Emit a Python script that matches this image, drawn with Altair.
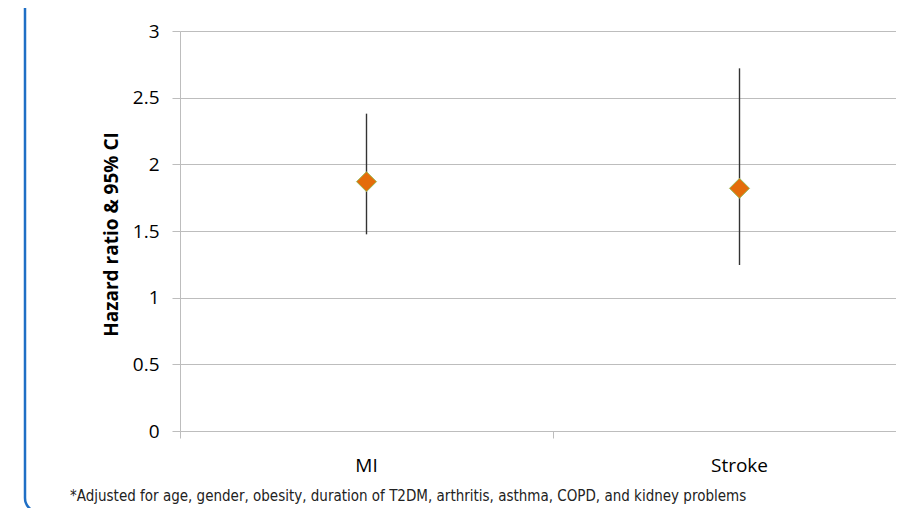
import altair as alt
import pandas as pd

categories = ["MI", "Stroke"]
hazard_ratio = [1.87, 1.82]
ci_lower = [1.475, 1.245]
ci_upper = [2.38, 2.72]
y_ticks = [0, 0.5, 1, 1.5, 2, 2.5, 3]
footnote = "*Adjusted for age, gender, obesity, duration of T2DM, arthritis, asthma, COPD, and kidney problems"
y_title = "Hazard ratio & 95% CI"

df = pd.DataFrame({
    "cat": categories,
    "pos": [i + 0.5 for i in range(len(categories))],
    "hr": hazard_ratio,
    "lo": ci_lower,
    "hi": ci_upper,
})

PLOT_W = 716
X_MAX = PLOT_W / 373
xscale = alt.Scale(domain=[0, X_MAX], nice=False, zero=False)
yscale = alt.Scale(domain=[0, 3], nice=False)

GRID = "#BDBDBD"
FONT = "Open Sans"

base = alt.Chart(df)

rules = base.mark_rule(color="#333333", strokeWidth=1.4).encode(
    x=alt.X("pos:Q", scale=xscale,
            axis=alt.Axis(values=[0, 1], labels=False, title=None, grid=False,
                          tickSize=7, tickColor=GRID, domainColor=GRID,
                          domainWidth=1, tickWidth=1)),
    y=alt.Y("lo:Q", scale=yscale,
            axis=alt.Axis(values=y_ticks, format="~g", title=y_title, grid=True,
                          gridColor=GRID, gridWidth=1, domainColor=GRID,
                          tickColor=GRID, tickSize=8,
                          labelFontSize=19, labelFont=FONT, labelColor="#000000",
                          labelPadding=13,
                          titleFont=FONT, titleFontSize=19, titleFontWeight="bold",
                          titleColor="#000000", titleX=-69, titleY=203,
                          titleBaseline="middle", titleAngle=-90, titleAlign="center")),
    y2="hi:Q",
)

points = base.mark_point(shape="diamond", filled=True, size=400, fill="#E46C0A",
                         stroke="#9BBB59", strokeWidth=1, opacity=1).encode(
    x=alt.X("pos:Q", scale=xscale),
    y=alt.Y("hr:Q", scale=yscale),
)

labels = base.mark_text(fontSize=19, font=FONT, color="#000000", baseline="middle").encode(
    x=alt.X("pos:Q", scale=xscale),
    y=alt.value(435),
    text="cat:N",
)

note = alt.Chart(pd.DataFrame({"t": [footnote]})).mark_text(
    fontSize=15, font="DejaVu Sans Condensed, Liberation Sans Narrow, Liberation Sans, sans-serif",
    color="#222222", align="left", baseline="middle").encode(
    x=alt.value(-110), y=alt.value(465), text="t:N")

border = alt.Chart(pd.DataFrame({"a": [0]})).mark_rect(
    fill=None, fillOpacity=0, stroke="#1F6FC5", strokeWidth=2.5, cornerRadius=14).encode(
    x=alt.value(-155), x2=alt.value(1000), y=alt.value(-60), y2=alt.value(481))

chart = alt.layer(border, rules, points, labels, note).properties(
    width=PLOT_W, height=400,
    autosize=alt.AutoSizeParams(type="none"),
    padding={"left": 172, "top": 23, "right": 0, "bottom": 77},
    background="white",
).configure_view(stroke=None)

chart.save("out.html", embed_options={"renderer": "svg", "actions": False})
